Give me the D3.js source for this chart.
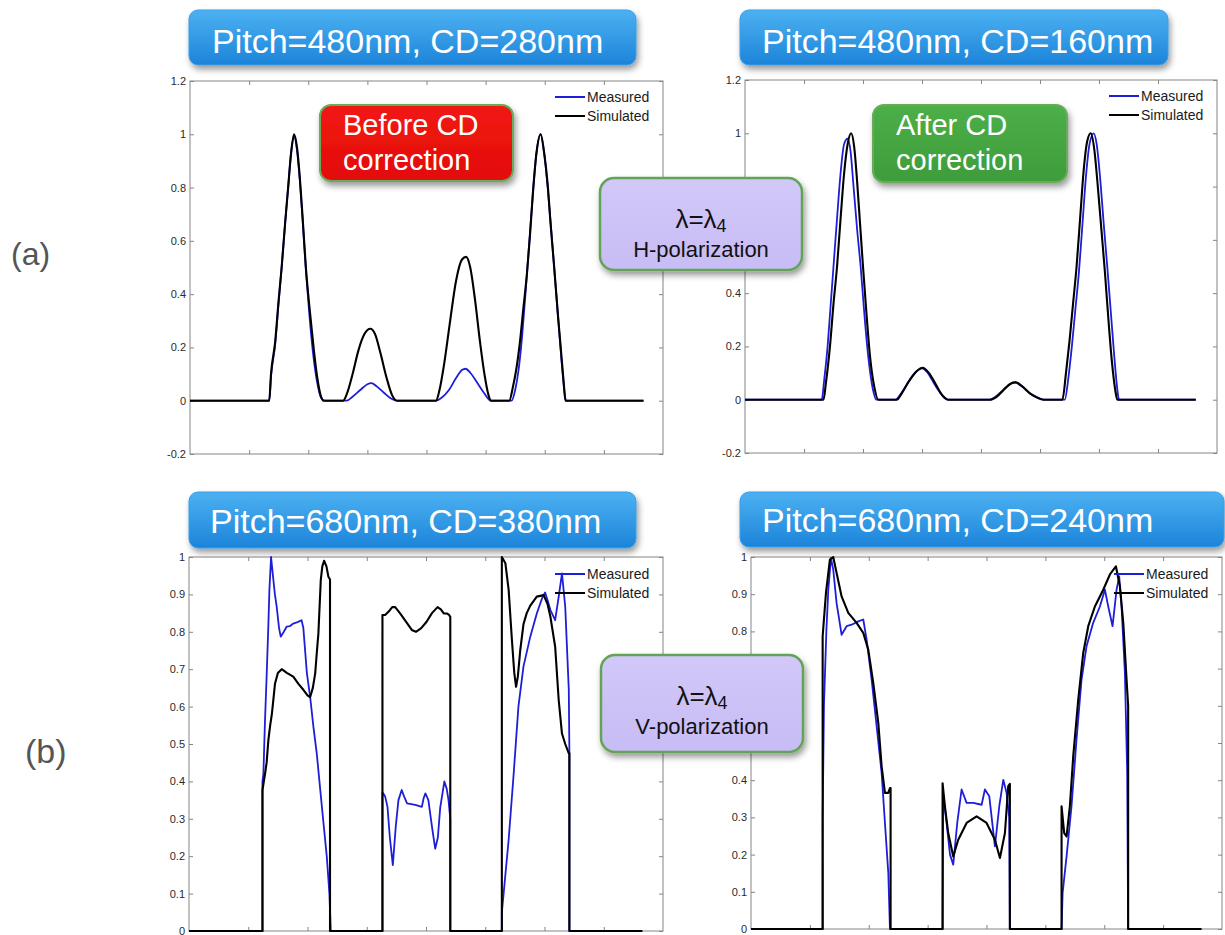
<!DOCTYPE html>
<meta charset = "utf-8">
<html>
  <style>
    body { margin: 0; background: #fff; }
    text { font-family: "Liberation Sans", Arial, sans-serif; }
  </style>
  <head>
    <title>CD correction profiles</title>
  </head>
  <body>

    <script src="https://d3js.org/d3.v7.min.js"></script>

    <div id = "container"></div>

  <script>

  /*
      Data (x in tick units 0..8, y = normalized intensity)
  */
  var xTicks = [0, 1, 2, 3, 4, 5, 6, 7, 8];
  var yTicksA = [-0.2, 0, 0.2, 0.4, 0.6, 0.8, 1, 1.2];
  var yTicksB = [0, 0.1, 0.2, 0.3, 0.4, 0.5, 0.6, 0.7, 0.8, 0.9, 1];

  var titles = ["Pitch=480nm, CD=280nm", "Pitch=480nm, CD=160nm",
                "Pitch=680nm, CD=380nm", "Pitch=680nm, CD=240nm"];
  var seriesNames = ["Measured", "Simulated"];

  // (a) left : before CD correction
  var measA1 = [[0,0],[1.34,0],[1.37,0.09],[1.44,0.21],[1.5,0.37],[1.55,0.5],[1.61,0.67],[1.66,0.8],[1.71,0.93],[1.76,0.99],
    [1.81,0.94],[1.86,0.82],[1.91,0.66],[1.96,0.49],[2.02,0.32],[2.08,0.18],[2.15,0.07],[2.22,0.01],[2.28,0],
    [2.65,0],[2.75,0.015],[2.88,0.04],[3.0,0.062],[3.07,0.066],[3.15,0.055],[3.28,0.03],[3.4,0.008],[3.5,0],
    [4.16,0],[4.25,0.01],[4.38,0.04],[4.5,0.085],[4.6,0.115],[4.66,0.12],[4.74,0.105],[4.85,0.07],[4.97,0.03],[5.09,0],
    [5.44,0],[5.5,0.04],[5.56,0.12],[5.62,0.25],[5.68,0.42],[5.74,0.6],[5.8,0.78],[5.86,0.93],[5.93,1.0],[5.99,0.93],
    [6.05,0.8],[6.11,0.64],[6.17,0.47],[6.23,0.3],[6.28,0.16],[6.33,0.04],[6.36,0],[7.67,0]];
  var simA1 = [[0,0],[1.34,0],[1.37,0.1],[1.44,0.22],[1.5,0.38],[1.55,0.5],[1.61,0.67],[1.66,0.8],[1.71,0.93],[1.76,1.0],
    [1.81,0.95],[1.86,0.83],[1.91,0.67],[1.96,0.5],[2.03,0.33],[2.09,0.2],[2.15,0.09],[2.21,0.02],[2.26,0],
    [2.59,0],[2.66,0.03],[2.75,0.1],[2.85,0.19],[2.95,0.25],[3.05,0.27],[3.13,0.25],[3.22,0.18],[3.32,0.09],[3.42,0.02],[3.5,0],
    [4.16,0],[4.22,0.04],[4.3,0.14],[4.4,0.3],[4.5,0.45],[4.6,0.53],[4.67,0.54],[4.74,0.5],[4.82,0.38],[4.9,0.23],[4.98,0.1],[5.05,0.02],[5.09,0],
    [5.4,0],[5.46,0.05],[5.52,0.12],[5.58,0.22],[5.64,0.35],[5.7,0.48],[5.75,0.62],[5.8,0.78],[5.86,0.93],[5.93,1.0],
    [5.99,0.93],[6.05,0.81],[6.1,0.66],[6.16,0.5],[6.22,0.33],[6.27,0.2],[6.32,0.07],[6.35,0],[7.67,0]];

  // (a) right : after CD correction
  var measA2 = [[0,0],[1.3,0],[1.34,0.07],[1.4,0.2],[1.45,0.35],[1.5,0.5],[1.56,0.68],[1.62,0.85],[1.68,0.96],[1.74,0.98],
    [1.79,0.93],[1.84,0.8],[1.9,0.64],[1.96,0.5],[2.02,0.33],[2.08,0.18],[2.15,0.06],[2.23,0],
    [2.55,0],[2.65,0.025],[2.78,0.07],[2.9,0.105],[3.0,0.118],[3.1,0.1],[3.22,0.055],[3.35,0.015],[3.45,0],
    [4.13,0],[4.25,0.012],[4.38,0.038],[4.5,0.06],[4.58,0.065],[4.68,0.052],[4.82,0.025],[4.95,0.01],[5.06,0],
    [5.42,0],[5.48,0.08],[5.54,0.2],[5.6,0.34],[5.66,0.48],[5.72,0.66],[5.78,0.84],[5.84,0.96],[5.91,1.0],[5.96,0.96],
    [6.02,0.83],[6.08,0.66],[6.14,0.5],[6.2,0.33],[6.26,0.16],[6.31,0.04],[6.34,0],[7.64,0]];
  var simA2 = [[0,0],[1.33,0],[1.37,0.06],[1.44,0.2],[1.5,0.36],[1.56,0.5],[1.62,0.68],[1.68,0.85],[1.74,0.96],[1.8,1.0],
    [1.85,0.95],[1.9,0.82],[1.95,0.66],[2.0,0.5],[2.06,0.32],[2.12,0.16],[2.19,0.05],[2.26,0],
    [2.57,0],[2.66,0.025],[2.78,0.07],[2.9,0.105],[3.01,0.12],[3.12,0.1],[3.24,0.055],[3.35,0.015],[3.45,0],
    [4.15,0],[4.27,0.012],[4.4,0.04],[4.5,0.06],[4.59,0.065],[4.7,0.05],[4.84,0.022],[4.95,0.008],[5.06,0],
    [5.38,0],[5.44,0.1],[5.5,0.22],[5.56,0.36],[5.62,0.5],[5.68,0.68],[5.74,0.86],[5.8,0.97],[5.86,1.0],[5.92,0.94],
    [5.98,0.8],[6.04,0.64],[6.1,0.48],[6.16,0.3],[6.22,0.14],[6.28,0.03],[6.31,0],[7.64,0]];

  // (b) left : before CD correction
  var measB1 = [[0,0],[1.24,0],[1.24,0.40],[1.256,0.421],[1.28,0.55],[1.312,0.689],[1.34,0.82],[1.357,0.912],[1.385,1.0],
    [1.41,0.96],[1.45,0.9],[1.48,0.867],[1.52,0.81],[1.548,0.787],[1.6,0.8],[1.65,0.814],[1.7,0.815],[1.76,0.822],
    [1.82,0.825],[1.86,0.828],[1.9,0.831],[1.93,0.81],[1.99,0.689],[2.044,0.627],[2.1,0.546],[2.156,0.475],[2.21,0.386],
    [2.27,0.288],[2.326,0.198],[2.37,0.1],[2.393,0],
    [3.265,0],[3.265,0.37],[3.28,0.368],[3.31,0.36],[3.35,0.332],[3.39,0.25],[3.44,0.176],[3.49,0.28],[3.535,0.35],
    [3.59,0.377],[3.63,0.36],[3.68,0.341],[3.82,0.337],[3.93,0.332],[3.96,0.355],[3.99,0.368],[4.04,0.35],[4.1,0.28],
    [4.155,0.22],[4.2,0.25],[4.24,0.33],[4.31,0.4],[4.35,0.38],[4.38,0.35],[4.41,0.3],[4.41,0],
    [5.28,0],[5.28,0.05],[5.31,0.1],[5.395,0.244],[5.48,0.421],[5.56,0.6],[5.645,0.707],[5.76,0.787],[5.87,0.849],
    [5.96,0.89],[6.01,0.905],[6.06,0.88],[6.1,0.858],[6.18,0.831],[6.24,0.894],[6.295,0.956],[6.35,0.867],[6.41,0.645],
    [6.42,0.48],[6.42,0],[7.65,0]];
  var simB1 = [[0,0],[1.24,0],[1.24,0.377],[1.284,0.421],[1.31,0.45],[1.34,0.511],[1.37,0.55],[1.4,0.582],[1.452,0.662],
    [1.5,0.69],[1.565,0.7],[1.65,0.69],[1.76,0.68],[1.85,0.66],[1.93,0.645],[2.0,0.63],[2.044,0.625],[2.09,0.65],
    [2.13,0.689],[2.16,0.75],[2.184,0.796],[2.224,0.938],[2.25,0.975],[2.28,0.99],[2.32,0.975],[2.353,0.947],[2.38,0.94],[2.38,0],
    [3.265,0],[3.265,0.845],[3.31,0.845],[3.37,0.854],[3.43,0.866],[3.48,0.866],[3.56,0.85],[3.68,0.823],[3.76,0.805],
    [3.83,0.8],[3.92,0.81],[4.01,0.827],[4.1,0.85],[4.195,0.866],[4.25,0.86],[4.3,0.849],[4.35,0.849],[4.39,0.845],[4.41,0.84],[4.41,0],
    [5.28,0],[5.28,1.0],[5.34,0.983],[5.395,0.912],[5.45,0.778],[5.49,0.69],[5.52,0.653],[5.55,0.68],[5.59,0.75],
    [5.645,0.82],[5.7,0.85],[5.76,0.87],[5.87,0.894],[5.985,0.898],[6.05,0.875],[6.1,0.84],[6.18,0.76],[6.24,0.617],
    [6.295,0.528],[6.35,0.5],[6.41,0.475],[6.42,0.475],[6.42,0],[7.65,0]];

  // (b) right : after CD correction
  var measB2 = [[0,0],[1.217,0],[1.217,0.3],[1.239,0.6],[1.28,0.8],[1.313,0.912],[1.358,0.997],[1.397,0.966],[1.454,0.876],
    [1.539,0.791],[1.624,0.814],[1.709,0.818],[1.822,0.827],[1.907,0.832],[1.964,0.778],[2.049,0.67],[2.134,0.545],
    [2.219,0.419],[2.275,0.285],[2.332,0.151],[2.36,0],
    [3.254,0],[3.265,0.36],[3.322,0.285],[3.38,0.2],[3.435,0.173],[3.503,0.285],[3.577,0.375],[3.662,0.339],[3.775,0.339],
    [3.917,0.334],[3.973,0.375],[4.047,0.357],[4.143,0.222],[4.217,0.33],[4.285,0.401],[4.341,0.366],[4.386,0.3],[4.397,0],
    [5.275,0],[5.293,0.097],[5.36,0.195],[5.444,0.33],[5.529,0.509],[5.614,0.67],[5.699,0.76],[5.812,0.823],[5.926,0.867],
    [6.011,0.912],[6.068,0.867],[6.141,0.814],[6.209,0.912],[6.254,0.948],[6.294,0.867],[6.351,0.688],[6.39,0.419],[6.406,0],[7.65,0]];
  var simB2 = [[0,0],[1.217,0],[1.217,0.787],[1.273,0.903],[1.34,0.993],[1.397,1.0],[1.454,0.957],[1.539,0.894],[1.652,0.85],
    [1.794,0.823],[1.907,0.796],[1.992,0.751],[2.077,0.661],[2.162,0.554],[2.219,0.437],[2.275,0.366],[2.332,0.366],
    [2.36,0.379],[2.371,0.379],[2.371,0],
    [3.254,0],[3.254,0.392],[3.294,0.33],[3.35,0.258],[3.435,0.195],[3.52,0.24],[3.662,0.285],[3.832,0.303],[4.001,0.285],
    [4.143,0.24],[4.228,0.191],[4.313,0.258],[4.369,0.384],[4.397,0.39],[4.397,0],
    [5.275,0],[5.275,0.33],[5.32,0.258],[5.36,0.249],[5.416,0.33],[5.473,0.464],[5.558,0.616],[5.643,0.742],[5.728,0.814],
    [5.841,0.867],[5.983,0.912],[6.096,0.953],[6.198,0.975],[6.266,0.921],[6.323,0.823],[6.379,0.67],[6.406,0.6],[6.406,0],[7.65,0]];

  var width = 1225,
      height = 935;

  var svg = d3.select("#container").append("svg")
      .attr("width", width)
      .attr("height", height);

  svg.append("rect").attr("width", width).attr("height", height).attr("fill", "#fff");

  var defs = svg.append("defs");

  var shadow = defs.append("filter")
      .attr("id", "shadow")
      .attr("x", "-10%").attr("y", "-20%")
      .attr("width", "130%").attr("height", "160%");
  shadow.append("feDropShadow")
      .attr("dx", 2).attr("dy", 4)
      .attr("stdDeviation", 3)
      .attr("flood-color", "#000")
      .attr("flood-opacity", 0.4);

  function gradient(id, top, bottom) {
    var g = defs.append("linearGradient")
      .attr("id", id)
      .attr("x1", "0%").attr("y1", "0%")
      .attr("x2", "0%").attr("y2", "100%");
    g.append("stop").attr("offset", "0%").attr("stop-color", top);
    g.append("stop").attr("offset", "100%").attr("stop-color", bottom);
  }
  gradient("blueGrad", "#4cb1f1", "#1c84da");
  gradient("redGrad", "#f21a14", "#e20a08");
  gradient("greenGrad", "#4caf48", "#3e9c3b");
  gradient("purpleGrad", "#d2c8f8", "#c8bcf5");

  // lambda boxes sit over the inner axes, tick labels under them are not shown
  var lambdaRects = [
    {x: 600, y: 178, w: 202, h: 92, pol: "H-polarization"},
    {x: 601, y: 655, w: 202, h: 97, pol: "V-polarization"}
  ];

  /*
     The four plots
  */
  var panels = [
    {x0: 190, x1: 663, y0: 81, y1: 454, ydom: [-0.2, 1.2], yt: yTicksA, meas: measA1, sim: simA1, smooth: true},
    {x0: 745, x1: 1217, y0: 80, y1: 453, ydom: [-0.2, 1.2], yt: yTicksA, meas: measA2, sim: simA2, smooth: true},
    {x0: 189, x1: 663, y0: 557, y1: 931, ydom: [0, 1], yt: yTicksB, meas: measB1, sim: simB1, smooth: false},
    {x0: 751, x1: 1222, y0: 557, y1: 929, ydom: [0, 1], yt: yTicksB, meas: measB2, sim: simB2, smooth: false}
  ];

  panels.forEach(function(p) {
    var x = d3.scaleLinear().domain([0, 8]).range([p.x0, p.x1]);
    var y = d3.scaleLinear().domain(p.ydom).range([p.y1, p.y0]);
    var g = svg.append("g");

    g.append("rect")
      .attr("x", p.x0).attr("y", p.y0)
      .attr("width", p.x1 - p.x0).attr("height", p.y1 - p.y0)
      .attr("fill", "#fff")
      .attr("stroke", "#858585")
      .attr("stroke-width", 1);

    // inward ticks on all four sides, labels only on the left
    g.append("g")
      .attr("class", "yleft")
      .attr("transform", "translate(" + p.x0 + ",0)")
      .call(d3.axisLeft(y).tickValues(p.yt).tickSizeInner(-4).tickSizeOuter(0).tickPadding(4)
        .tickFormat(function(d){ return String(d); }));
    g.append("g")
      .attr("transform", "translate(" + p.x1 + ",0)")
      .call(d3.axisRight(y).tickValues(p.yt).tickSizeInner(-4).tickSizeOuter(0).tickFormat(""));
    g.append("g")
      .attr("transform", "translate(0," + p.y1 + ")")
      .call(d3.axisBottom(x).tickValues(xTicks.slice(1, -1)).tickSizeInner(-4).tickSizeOuter(0).tickFormat(""));
    g.append("g")
      .attr("transform", "translate(0," + p.y0 + ")")
      .call(d3.axisTop(x).tickValues(xTicks.slice(1, -1)).tickSizeInner(-4).tickSizeOuter(0).tickFormat(""));

    g.selectAll(".domain").remove();
    g.selectAll(".tick line").attr("stroke", "#858585");
    g.selectAll(".tick text")
      .attr("fill", "#2a2a2a")
      .style("font-size", "11px")
      .style("font-family", "Liberation Sans, Arial, sans-serif");

    // drop labels that end up hidden under a lambda box
    g.selectAll(".yleft .tick").each(function(d) {
      var ty = y(d);
      var hidden = lambdaRects.some(function(r) {
        return p.x0 - 20 < r.x + r.w && p.x0 > r.x && ty > r.y - 4 && ty < r.y + r.h + 4;
      });
      if (hidden) d3.select(this).select("text").remove();
    });

    var line = d3.line()
      .x(function(d){ return x(d[0]); })
      .y(function(d){ return y(d[1]); })
      .curve(p.smooth ? d3.curveMonotoneX : d3.curveLinear);

    g.append("path")
      .datum(p.meas)
      .attr("d", line)
      .attr("fill", "none")
      .attr("stroke", "#1e1ed8")
      .attr("stroke-width", 1.8)
      .attr("stroke-linejoin", "round");

    g.append("path")
      .datum(p.sim)
      .attr("d", line)
      .attr("fill", "none")
      .attr("stroke", "#000")
      .attr("stroke-width", 2.1)
      .attr("stroke-linejoin", "round");

    // legend, top right, no frame
    var lg = g.append("g");
    var ly = p.y0 + (p.ydom[0] < 0 ? 16 : 17);
    [["#1e1ed8", seriesNames[0]], ["#000", seriesNames[1]]].forEach(function(s, i) {
      lg.append("line")
        .attr("x1", p.x1 - 108).attr("x2", p.x1 - 78)
        .attr("y1", ly + i * 19).attr("y2", ly + i * 19)
        .attr("stroke", s[0]).attr("stroke-width", 2);
      lg.append("text")
        .attr("x", p.x1 - 76).attr("y", ly + i * 19 + 5)
        .attr("fill", "#1a1a1a")
        .style("font-size", "14px")
        .text(s[1]);
    });
  });

  /*
     Title bars
  */
  var titleBoxes = [
    {x: 189, y: 10, w: 447, h: 55, tx: 212, ty: 53},
    {x: 740, y: 10, w: 428, h: 55, tx: 762, ty: 53},
    {x: 189, y: 492, w: 447, h: 56, tx: 210, ty: 533},
    {x: 740, y: 492, w: 484, h: 55, tx: 762, ty: 532}
  ];
  titleBoxes.forEach(function(b, i) {
    svg.append("rect")
      .attr("x", b.x).attr("y", b.y).attr("width", b.w).attr("height", b.h)
      .attr("rx", 9)
      .attr("fill", "url(#blueGrad)")
      .attr("stroke", "#3a9ee8")
      .attr("stroke-width", 1)
      .attr("filter", "url(#shadow)");
    svg.append("text")
      .attr("x", b.tx).attr("y", b.ty)
      .attr("fill", "#fff")
      .style("font-size", "34px")
      .text(titles[i]);
  });

  /*
     Callout boxes
  */
  function callout(x0, y0, w, h, fill, lines) {
    svg.append("rect")
      .attr("x", x0).attr("y", y0).attr("width", w).attr("height", h)
      .attr("rx", 11)
      .attr("fill", fill)
      .attr("stroke", "#6aaa58")
      .attr("stroke-width", 2)
      .attr("filter", "url(#shadow)");
    lines.forEach(function(t, i) {
      svg.append("text")
        .attr("x", x0 + 23).attr("y", y0 + 30 + i * 35)
        .attr("fill", "#fff")
        .style("font-size", "29px")
        .text(t);
    });
  }
  callout(320, 105, 193, 76, "url(#redGrad)", ["Before CD", "correction"]);
  callout(873, 105, 194, 77, "url(#greenGrad)", ["After CD", "correction"]);

  lambdaRects.forEach(function(r) {
    svg.append("rect")
      .attr("x", r.x).attr("y", r.y).attr("width", r.w).attr("height", r.h)
      .attr("rx", 14)
      .attr("fill", "url(#purpleGrad)")
      .attr("stroke", "#62a456")
      .attr("stroke-width", 2.5)
      .attr("filter", "url(#shadow)");
    var t = svg.append("text")
      .attr("x", r.x + r.w / 2).attr("y", r.y + 50)
      .attr("text-anchor", "middle")
      .attr("fill", "#111")
      .style("font-size", "26px");
    t.append("tspan").text("\u03bb=\u03bb");
    t.append("tspan").attr("dy", 4).style("font-size", "18px").text("4");
    svg.append("text")
      .attr("x", r.x + r.w / 2).attr("y", r.y + 79)
      .attr("text-anchor", "middle")
      .attr("fill", "#111")
      .style("font-size", "22px")
      .text(r.pol);
  });

  // row labels
  svg.append("text").attr("x", 11).attr("y", 265).attr("fill", "#555")
    .style("font-size", "32px").text("(a)");
  svg.append("text").attr("x", 25).attr("y", 763).attr("fill", "#555")
    .style("font-size", "34px").text("(b)");

  </script>
  </body>
</html>
